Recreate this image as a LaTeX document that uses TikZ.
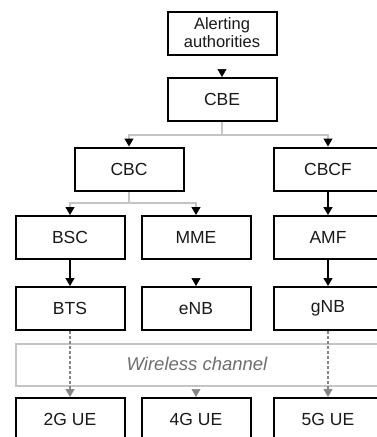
\documentclass[tikz,border=0pt]{standalone}
\usepackage{fontspec}
\setmainfont{Liberation Sans}
\usetikzlibrary{arrows.meta}
\definecolor{lgray}{HTML}{C4C4C4}
\definecolor{dgray}{HTML}{858585}
\definecolor{tgray}{HTML}{6E6E6E}
\tikzset{
  box/.style={draw=black, line width=2pt, fill=white, minimum width=109pt, minimum height=43pt, inner sep=0pt, align=center, font=\fontsize{17.5}{18}\selectfont, text=black!90},
  btip/.style={-{Triangle[black,length=8pt,width=9pt]}},
  gtip/.style={-{Triangle[dgray,length=8pt,width=9pt]}},
  gline/.style={draw=lgray, line width=1.2pt, btip},
  kline/.style={draw=black, line width=1.6pt, btip},
  ghost/.style={draw=white, line width=0.5pt, btip},
  dline/.style={draw=dgray, line width=1.5pt, dash pattern=on 3pt off 2pt, gtip},
}
\begin{document}
\begin{tikzpicture}[x=1pt,y=-1pt]
\useasboundingbox (0,0) rectangle (377,437);
\clip (0,0) rectangle (377,437);
% row A/B
\node[box, font=\fontsize{16.5}{18}\selectfont] (alert) at (222,33) {Alerting\\authorities};
\node[box] (cbe) at (222,99.5) {CBE};
% row C
\node[box] (cbc) at (129,169) {CBC};
\node[box] (cbcf) at (328,169) {CBCF};
% row D
\node[box] (bsc) at (70,237.5) {BSC};
\node[box] (mme) at (196,237.5) {MME};
\node[box] (amf) at (328,237.5) {AMF};
% row E
\node[box] (bts) at (70,308.5) {BTS};
\node[box] (enb) at (196,308.5) {eNB};
\node[box] (gnb) at (328,308.5) {gNB};
% wireless channel
\node[draw=lgray, line width=2pt, minimum width=400pt, minimum height=42pt, anchor=north west, inner sep=0pt] (wl) at (15,343) {};
\node[text=tgray, font=\fontsize{18.5}{20}\selectfont\itshape] (wltext) at (197,364) {Wireless channel};
% row F
\node[box] (ue2) at (70,419.5) {2G UE};
\node[box] (ue4) at (196,419.5) {4G UE};
\node[box] (ue5) at (328,419.5) {5G UE};
% connectors
\coordinate (j1) at (222,135);
\coordinate (j2) at (129,203);
\coordinate (w4) at (196,385);
\draw[ghost] (alert) -- (cbe);
\draw[gline] (cbe.south) -- (j1) -| (cbc.north);
\draw[gline] (j1) -| (cbcf.north);
\draw[gline] (cbc.south) -- (j2) -| (bsc.north);
\draw[gline] (j2) -| (mme.north);
\draw[kline] (cbcf) -- (amf);
\draw[kline] (bsc) -- (bts);
\draw[ghost] (mme) -- (enb);
\draw[kline] (amf) -- (gnb);
\draw[dline] (bts) -- (ue2);
\draw[dline] (gnb) -- (ue5);
\draw[draw=white, line width=0.5pt, gtip] (w4) ++(0,1.5) -- (ue4.north);
\end{tikzpicture}
\end{document}
